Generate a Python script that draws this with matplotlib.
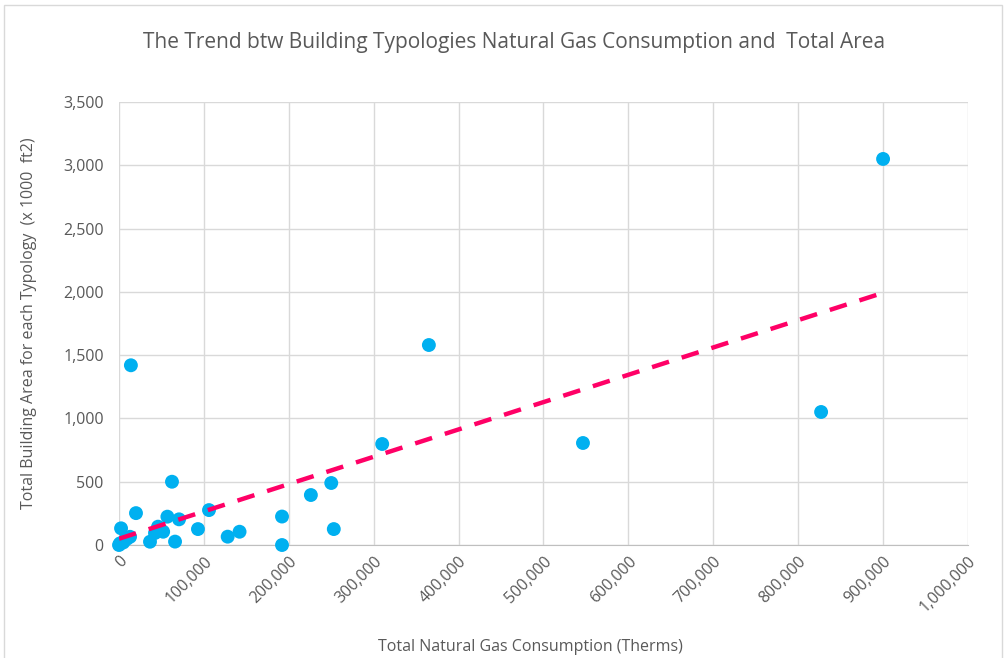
import numpy as np
from matplotlib import pyplot as plt
from matplotlib.ticker import FuncFormatter
from matplotlib.patches import Rectangle

plt.rcParams['font.family'] = ['Open Sans', 'DejaVu Sans']

# gas consumption (therms) vs building area (x 1000 ft2)
gas = [0, 1200, 2400, 5000, 7000, 9500, 13000, 14000, 20000, 36500, 42400, 46000,
       52000, 57000, 62400, 66000, 70700, 93000, 106000, 128000, 142000,
       192000, 192000, 226000, 250000, 253000, 310000, 365000, 546500, 827000, 900000]
area = [0, 13, 132, 20, 40, 50, 65, 1420, 252, 26, 95, 145,
        105, 224, 500, 27, 203, 126, 276, 66, 105,
        225, 0, 395, 490, 126, 798, 1580, 806, 1051, 3050]

xticks = np.arange(0, 1000001, 100000)
yticks = np.arange(0, 3501, 500)

fig = plt.figure(figsize=(10.06, 6.58), dpi=100)
ax = fig.add_axes([0.1183, 0.1717, 0.8439, 0.6733])

ax.scatter(gas, area, s=100, color='#00B0F0', zorder=3, edgecolors='none', clip_on=False)

# linear trendline
k, b = np.polyfit(gas, area, 1)
xs = np.array([0, max(gas)])
ax.plot(xs, k * xs + b, color='#FF0066', lw=3.2, ls=(0, (4, 3)), zorder=4)

ax.set_xlim(0, 1000000)
ax.set_ylim(0, 3500)
ax.set_xticks(xticks)
ax.set_yticks(yticks)
ax.xaxis.set_major_formatter(FuncFormatter(lambda v, p: f'{int(v):,}'))
ax.yaxis.set_major_formatter(FuncFormatter(lambda v, p: f'{int(v):,}'))
ax.grid(True, color='#d9d9d9', lw=1)
ax.set_axisbelow(True)
for s in ['top', 'right', 'left']:
    ax.spines[s].set_visible(False)
ax.spines['bottom'].set_color('#bfbfbf')
ax.tick_params(length=0, colors='#595959', labelsize=11.5)
ax.tick_params(axis='y', pad=11)
ax.tick_params(axis='x', pad=6)
plt.setp(ax.get_xticklabels(), rotation=45, ha='right', rotation_mode='anchor')

ax.set_xlabel('Total Natural Gas Consumption (Therms)', color='#595959', fontsize=11.5)
ax.set_ylabel('Total Building Area for each Typology  (x 1000  ft2)', color='#595959', fontsize=11.5)
ax.xaxis.set_label_coords(0.485, -0.212)
ax.yaxis.set_label_coords(-0.097, 0.5)
fig.text(0.511, 0.936, 'The Trend btw Building Typologies Natural Gas Consumption and  Total Area',
         ha='center', va='center', fontsize=15, color='#595959')

fig.patches.append(Rectangle((0.004, -0.01), 0.992, 1.003, transform=fig.transFigure,
                             fill=False, edgecolor='#d9d9d9', lw=1))

plt.savefig('out.png')
